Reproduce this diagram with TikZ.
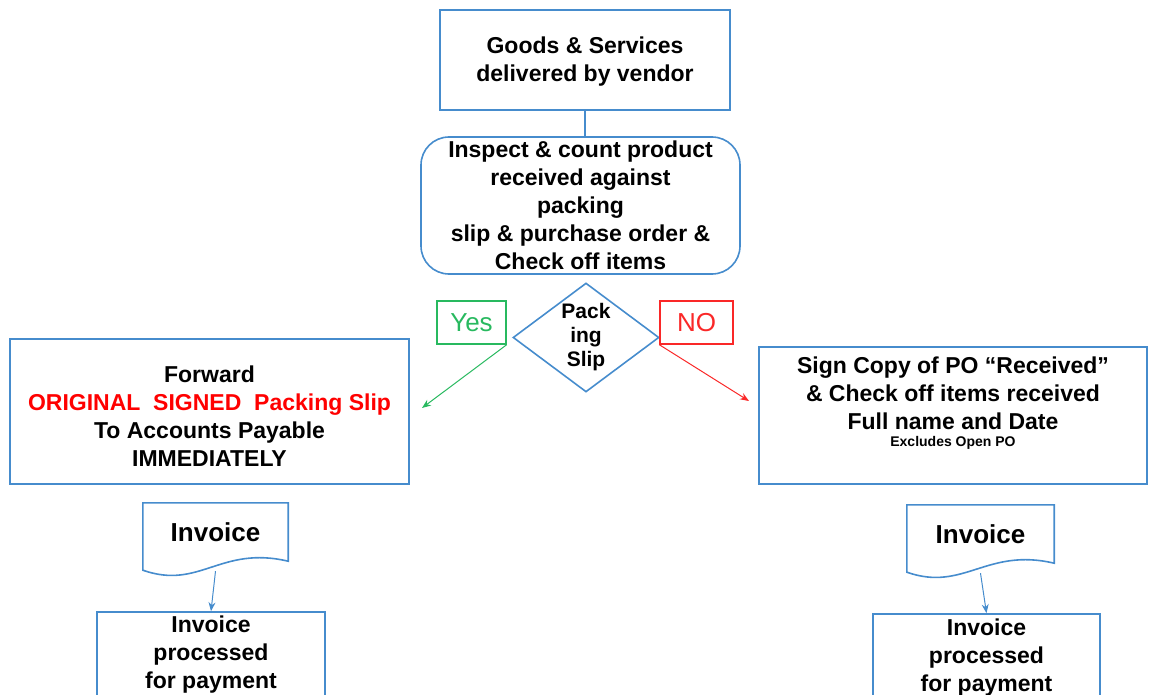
\documentclass[tikz,border=0pt]{standalone}
\usepackage{fontspec}
\setmainfont{Liberation Sans}
\usetikzlibrary{arrows.meta}
\usetikzlibrary{calc}
\usetikzlibrary{shapes.geometric}
\definecolor{flowblue}{RGB}{70,140,205}
\definecolor{yesgreen}{RGB}{40,185,95}
\definecolor{nored}{RGB}{250,40,40}

\begin{document}
\begin{tikzpicture}[x=1pt,y=-1pt,
		procbox/.style={draw=flowblue,line width=1.6pt,rectangle,align=center,inner sep=0pt,
			font=\fontsize{23}{28}\selectfont\bfseries},
		doctext/.style={rectangle,inner sep=0pt,font=\fontsize{26}{30}\selectfont\bfseries},
		docline/.style={draw=flowblue,line width=1.6pt},
		answer/.style={rectangle,line width=1.4pt,inner sep=0pt,font=\fontsize{26}{30}\selectfont},
		flowarrow/.style={draw=flowblue,line width=1pt,-{Stealth[length=9pt,width=7pt]}}]
		\useasboundingbox (0,0) rectangle (1149,695);

		\node [procbox,minimum width=290,minimum height=100] (goods) at (585,60) {};
		\node [anchor=north,align=center,inner sep=0pt,font=\fontsize{23}{28}\selectfont\bfseries] (goodstext)
			at ($(goods.north)+(0,27)$)
			{Goods \& Services\\delivered by vendor};
		\node [procbox,rounded corners=28pt,minimum width=319,minimum height=137] (inspect) at (580.5,205.5)
			{Inspect \& count product\\received against\\packing\\slip \& purchase order \&\\Check off items};
		\node [draw=flowblue,line width=1.6pt,diamond,aspect=1.34,inner sep=0pt,align=center,
			minimum width=146,minimum height=109,font=\fontsize{21}{24}\selectfont\bfseries] (slip) at (586,337.5)
			{Pack\\ing\\Slip};

		\node [answer,draw=yesgreen,text=yesgreen,minimum width=69,minimum height=43] (yes) at (471.5,322.5) {Yes};
		\node [answer,draw=nored,text=nored,minimum width=73,minimum height=43] (no) at (696.5,322.5) {NO};

		\node [procbox,minimum width=399,minimum height=145] (forward) at (209.5,411.5) {};
		\node [anchor=north,align=center,inner sep=0pt,font=\fontsize{23}{28}\selectfont\bfseries] (fwdtext)
			at ($(forward.north)+(0,27)$)
			{Forward\\{\color{red}ORIGINAL\ \ SIGNED\ \ Packing Slip}\\To Accounts Payable\\IMMEDIATELY};
		\node [procbox,minimum width=388,minimum height=137] (sign) at (953,415.5) {};
		\node [anchor=north,align=center,inner sep=0pt,font=\fontsize{23}{28}\selectfont\bfseries] (signtext)
			at ($(sign.north)+(0,10)$)
			{Sign Copy of PO “Received”\\\& Check off items received\\Full name and Date\\[-11pt]
			{\fontsize{14}{16}\selectfont Excludes Open PO}};

		\coordinate (yesend) at (422,408);
		\coordinate (noend) at (749,401);

		% invoices
		\node [doctext,minimum width=145,minimum height=58] (inv1) at (215.5,532) {Invoice};
		\node [doctext,minimum width=147,minimum height=58] (inv2) at (980.5,534) {Invoice};
		\foreach \d in {inv1,inv2}
			\draw [docline] (\d.south east)
				.. controls ($(\d.south east)+(-68,-16)$) and ($(\d.south west)+(57,29)$) .. ($(\d.south west)+(0,9)$)
				-- (\d.north west) -- (\d.north east) -- cycle;

		\node [procbox,minimum width=228,minimum height=86] (paid1) at (211,655)
			{Invoice\\processed\\for payment};
		\node [procbox,minimum width=227,minimum height=88] (paid2) at (986.5,658)
			{Invoice\\processed\\for payment};

		\draw [draw=flowblue,line width=1.6pt] (goods.south) -- (goods.south |- inspect.north);
		\draw [draw=yesgreen,line width=1pt,-{Stealth[length=9pt,width=7pt]}] (yes.south east) -- (yesend);
		\draw [draw=nored,line width=1pt,-{Stealth[length=9pt,width=7pt]}] (no.south west) -- (noend);
		\draw [flowarrow] ($(inv1.south)+(0,10)$) -- (paid1.north);
		\draw [flowarrow] ($(inv2.south)+(0,10)$) -- (paid2.north);
	\end{tikzpicture}
\end{document}
